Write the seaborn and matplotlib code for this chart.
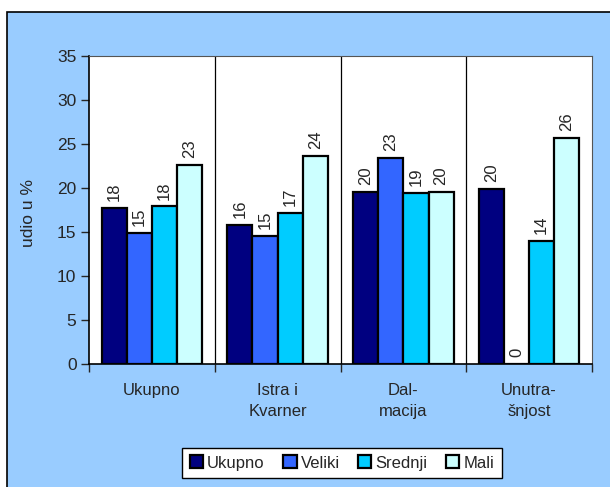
import pandas as pd
import seaborn as sns
import matplotlib.pyplot as plt
from matplotlib.patches import Rectangle

# Data
regions = ["Ukupno", "Istra i\nKvarner", "Dal-\nmacija", "Unutra-\nšnjost"]
series = ["Ukupno", "Veliki", "Srednji", "Mali"]
ukupno = [17.7, 15.8, 19.6, 19.9]
veliki = [14.9, 14.6, 23.4, 0.0]
srednji = [17.9, 17.2, 19.4, 14.0]
mali = [22.6, 23.6, 19.6, 25.7]
colors = ["#000080", "#3366FF", "#00CCFF", "#CCFFFF"]

rows = []
for name, vals in zip(series, [ukupno, veliki, srednji, mali]):
    for reg, v in zip(regions, vals):
        rows.append({"regija": reg, "velicina": name, "udio": v})
df = pd.DataFrame(rows)

sns.set_style("white")
plt.rcParams['font.family'] = ['Liberation Sans', 'DejaVu Sans']

fig = plt.figure(figsize=(6.1, 4.87), dpi=100)
fig.patch.set_facecolor("white")
# light blue chart area with frame
fig.patches.append(Rectangle((7 / 610, -0.02), 1.0, 1.02 - 12 / 487, transform=fig.transFigure,
                             facecolor="#99CCFF", edgecolor="black", linewidth=1.2, zorder=-5))

ax = fig.add_axes([89 / 610, 1 - 364 / 487, (592 - 89) / 610, (364 - 56) / 487])
sns.barplot(data=df, x="regija", y="udio", hue="velicina", palette=colors, saturation=1,
            width=0.8, edgecolor="black", linewidth=1.6, ax=ax, legend=True)

for cont in ax.containers:
    ax.bar_label(cont, fmt=lambda v: f"{int(v + 0.5)}", rotation=90, padding=5, fontsize=12)

ax.set_ylim(0, 35)
ax.set_yticks(range(0, 36, 5))
ax.set_xlim(-0.5, 3.5)
ax.set_xlabel("")
ax.set_ylabel("udio u %", fontsize=12.5)
ax.yaxis.set_label_coords(-0.105, 0.49)
ax.set_facecolor("white")

# group separators
for xb in [0.5, 1.5, 2.5]:
    ax.axvline(xb, color="black", linewidth=0.9)
ax.set_xticks([-0.5, 0.5, 1.5, 2.5, 3.5], minor=False)
ax.set_xticklabels([])
ax.set_xticks([0, 1, 2, 3], minor=True)
ax.set_xticklabels(regions, minor=True, fontsize=12, linespacing=1.45)
ax.tick_params(axis="x", which="minor", length=0, pad=14)
ax.tick_params(axis="x", which="major", direction="out", length=6, width=1, bottom=True)
ax.tick_params(axis="y", direction="out", length=6, width=1, left=True, labelsize=12.5, pad=3)

for s in ["left", "bottom"]:
    ax.spines[s].set_color("black")
    ax.spines[s].set_linewidth(1.2)
for s in ["top", "right"]:
    ax.spines[s].set_color("#555555")
    ax.spines[s].set_linewidth(0.8)

handles, labels = ax.get_legend_handles_labels()
ax.legend(handles, labels, loc="center", bbox_to_anchor=(342 / 610, 1 - 463 / 487),
          bbox_transform=fig.transFigure, ncol=4, frameon=True, fancybox=False,
          edgecolor="black", framealpha=1, fontsize=12, handlelength=0.8,
          handleheight=0.8, handletextpad=0.25, columnspacing=1.1, borderpad=0.45)

fig.savefig("out.png", dpi=100, facecolor=fig.get_facecolor())
